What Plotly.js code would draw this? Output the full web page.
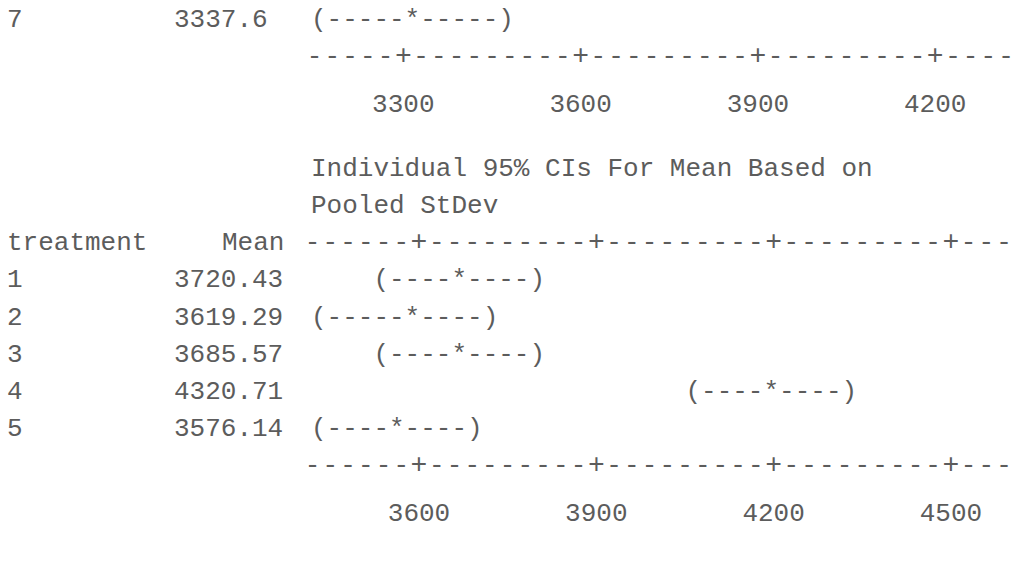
<!DOCTYPE html>
<html>
<head>
<meta charset="utf-8">
<script src="https://cdn.plot.ly/plotly-3.0.1.min.js"></script>
<style>html,body{margin:0;padding:0;background:#fff;}#chart{width:1012px;height:566px;}</style>
</head>
<body>
<div id="chart"></div>
<script>
// ---- data ----
const topLabel = ['7'];
const topMean = [3337.6];
const topCI = ['(-----*-----)'];
const topTicks = [3300, 3600, 3900, 4200];
const topAxisText = '-----+---------+---------+---------+----';

const ciTitle = ['Individual 95% CIs For Mean Based on', 'Pooled StDev'];
const headers = ['treatment', 'Mean'];
const treatments = ['1', '2', '3', '4', '5'];
const means = [3720.43, 3619.29, 3685.57, 4320.71, 3576.14];
const ciText = [
  '    (----*----)',
  '(-----*----)',
  '    (----*----)',
  '                        (----*----)',
  '(----*----)'
];
const bottomTicks = [3600, 3900, 4200, 4500];
const bottomAxisText = '------+---------+---------+---------+---';

// ---- layout constants ----
const W = 1012, H = 566;
const FONT = '"Liberation Mono", "Courier New", monospace';
const COLOR = '#5c5c5c';
const FS = 26;
const PLUS_FS = 28;
const ROW0 = 20, ROWH = 37.2;
const rowY = L => ROW0 + L * ROWH;
const COL_LABEL = 6, COL_MEAN = 173, COL_CI = 310;
const PXPU = 0.591; // px per data unit on the character plots

const nb = s => s.replace(/ /g, '\u00a0');

const annotations = [];
function txt(x, y, s) {
  annotations.push({xref: 'x', yref: 'y', x: x, y: y, text: nb(s), showarrow: false,
    xanchor: 'left', yanchor: 'middle', align: 'left', borderpad: 0,
    font: {family: FONT, size: FS, color: COLOR}});
}

// top block
txt(COL_LABEL, rowY(0), topLabel[0]);
txt(COL_MEAN, rowY(0), topMean[0].toFixed(1));
txt(COL_CI, rowY(0), topCI[0]);
// titles
txt(COL_CI, rowY(4), ciTitle[0]);
txt(COL_CI, rowY(5), ciTitle[1]);
// header
txt(COL_LABEL, rowY(6), headers[0]);
txt(COL_MEAN + 48, rowY(6), headers[1]);
// rows
treatments.forEach((t, i) => {
  txt(COL_LABEL, rowY(7 + i), t);
  txt(COL_MEAN, rowY(7 + i), means[i].toFixed(2));
  txt(COL_CI, rowY(7 + i), ciText[i]);
});

// axis character lines built from tick values
function axisChars(str, ticks, y, xa) {
  const i0 = str.indexOf('+');
  const step = (ticks[1] - ticks[0]) / 10;
  const xs = [], ys = [], ts = [], sz = [];
  for (let k = 0; k < str.length; k++) {
    xs.push(ticks[0] + (k - i0) * step);
    ys.push(y);
    ts.push(str[k]);
    sz.push(str[k] === '+' ? PLUS_FS : FS);
  }
  return {type: 'scatter', mode: 'text', x: xs, y: ys, text: ts, xaxis: xa, yaxis: 'y',
    textposition: 'middle center', textfont: {family: FONT, size: sz, color: COLOR},
    hoverinfo: 'skip', showlegend: false, cliponaxis: false};
}

const traces = [
  axisChars(topAxisText, topTicks, rowY(1), 'x3'),
  axisChars(bottomAxisText, bottomTicks, rowY(6), 'x2'),
  axisChars(bottomAxisText, bottomTicks, rowY(12), 'x2')
];

const botRange = [bottomTicks[0] - 419 / PXPU, bottomTicks[0] + (W - 419) / PXPU];
const topRange = [topTicks[0] - 403.3 / PXPU, topTicks[0] + (W - 403.3) / PXPU];

const tickStyle = {showgrid: false, zeroline: false, showline: false, ticks: '',
  tickfont: {family: FONT, size: FS, color: COLOR}, fixedrange: true};

const layout = {
  width: W, height: H,
  margin: {l: 0, r: 0, t: 0, b: 0, pad: 0},
  paper_bgcolor: '#ffffff', plot_bgcolor: '#ffffff',
  showlegend: false,
  xaxis: {range: [0, W], visible: false, fixedrange: true},
  yaxis: {range: [H, 0], visible: false, fixedrange: true},
  xaxis2: Object.assign({}, tickStyle, {overlaying: 'x', anchor: 'free', side: 'bottom',
    position: 1 - rowY(12) / H, range: botRange,
    tickvals: bottomTicks, ticktext: bottomTicks.map(String), ticklabelstandoff: 28}),
  xaxis3: Object.assign({}, tickStyle, {overlaying: 'x', anchor: 'free', side: 'bottom',
    position: 1 - rowY(1) / H, range: topRange,
    tickvals: topTicks, ticktext: topTicks.map(String), ticklabelstandoff: 28}),
  annotations: annotations
};

Plotly.newPlot('chart', traces, layout, {staticPlot: true, displayModeBar: false});
</script>
</body>
</html>
